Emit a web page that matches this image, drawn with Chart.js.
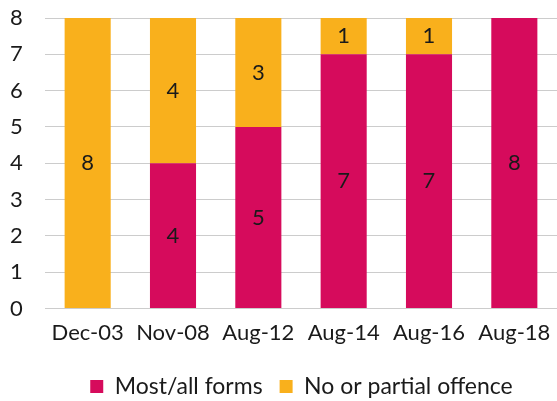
<!DOCTYPE html>
<html>
<head>
<meta charset="utf-8">
<script src="https://cdn.jsdelivr.net/npm/chart.js@4"></script>
<style>
  html, body { margin: 0; padding: 0; background: #fff; }
  #wrap { width: 557px; height: 401px; }
</style>
</head>
<body>
<div id="wrap"><canvas id="offenceChart" width="557" height="401"></canvas></div>
<script>
const periods = ['Dec-03', 'Nov-08', 'Aug-12', 'Aug-14', 'Aug-16', 'Aug-18'];
const mostAllForms = [0, 4, 5, 7, 7, 8];
const noOrPartial = [8, 4, 3, 1, 1, 0];
const yTicks = [0, 1, 2, 3, 4, 5, 6, 7, 8];

const FONT = 'Lato, "Open Sans", sans-serif';

// write each segment's value in the middle of its bar
const barLabels = {
    id: 'barLabels',
    afterDatasetsDraw(chart) {
        const ctx = chart.ctx;
        ctx.save();
        ctx.font = '22px ' + FONT;
        ctx.fillStyle = '#1a1a1a';
        ctx.textAlign = 'center';
        ctx.textBaseline = 'middle';
        chart.data.datasets.forEach((dataset, i) => {
            chart.getDatasetMeta(i).data.forEach((bar, j) => {
                const value = dataset.data[j];
                if (!value) {
                    return;
                }
                ctx.fillText(String(value), bar.x, (bar.y + bar.base) / 2);
            });
        });
        ctx.restore();
    }
};

// legend sits a little right of centre
const legendNudge = {
    id: 'legendNudge',
    afterLayout(chart) {
        const legend = chart.legend;
        if (!legend) {
            return;
        }
        legend.left += 18;
        legend.right += 18;
    }
};

new Chart(document.getElementById('offenceChart'), {
    type: 'bar',
    data: {
        labels: periods,
        datasets: [{
            label: 'Most/all forms',
            data: mostAllForms,
            backgroundColor: '#d60b5c',
            barPercentage: 0.54,
            categoryPercentage: 1
        }, {
            label: 'No or partial offence',
            data: noOrPartial,
            backgroundColor: '#f9b01c',
            barPercentage: 0.54,
            categoryPercentage: 1
        }]
    },
    options: {
        responsive: false,
        animation: false,
        layout: {
            padding: { top: 0, right: 0, left: 10, bottom: -7 }
        },
        scales: {
            x: {
                stacked: true,
                grid: { display: false, drawTicks: false },
                border: { display: false },
                ticks: {
                    color: '#1a1a1a',
                    padding: 11.5,
                    font: { family: FONT, size: 22 }
                },
                afterFit: (axis) => {
                    axis.paddingLeft = 0;
                    axis.paddingRight = 0;
                }
            },
            y: {
                stacked: true,
                min: 0,
                max: 8,
                afterBuildTicks: (axis) => {
                    axis.ticks = yTicks.map((v) => ({ value: v }));
                },
                afterFit: (axis) => {
                    axis.width = 35;
                    axis.paddingTop = 18;
                },
                grid: { color: '#cccccc', lineWidth: 1, drawTicks: false },
                border: { display: false },
                ticks: {
                    color: '#1a1a1a',
                    padding: 0,
                    crossAlign: 'far',
                    font: { family: FONT, size: 22 }
                }
            }
        },
        plugins: {
            legend: {
                position: 'bottom',
                labels: {
                    color: '#1a1a1a',
                    boxWidth: 13,
                    boxHeight: 13,
                    padding: 17,
                    font: { family: FONT, size: 23 }
                }
            },
            tooltip: { enabled: false }
        }
    },
    plugins: [barLabels, legendNudge]
});
</script>
</body>
</html>
